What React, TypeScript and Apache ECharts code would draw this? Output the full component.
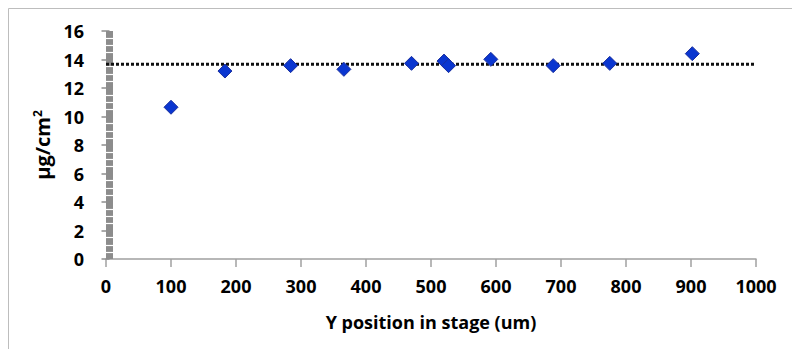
import React, { useEffect, useRef } from "react";
import * as echarts from "echarts";

const xPositions = [100, 183, 284, 366, 470, 520, 527, 592, 688, 775, 902];
const yValues = [10.65, 13.19, 13.57, 13.31, 13.73, 13.89, 13.57, 14.01, 13.57, 13.73, 14.41];
const meanValue = 13.66;
const meanLineX = [0, 1000];
const xTicks = { min: 0, max: 1000, interval: 100 };
const yTicks = { min: 0, max: 16, interval: 2 };

const FONT = "'Open Sans', Lato, sans-serif";

export default function App() {
  const ref = useRef<HTMLDivElement>(null);
  useEffect(() => {
    document.body.style.margin = "0";
    const chart = echarts.init(ref.current!, null, { renderer: "svg" });
    const points = xPositions.map((x, i) => [x, yValues[i]]);
    const mean = meanLineX.map((x) => [x, meanValue]);
    chart.setOption({
      animation: false,
      backgroundColor: "#ffffff",
      graphic: [
        {
          type: "rect",
          shape: { x: 8.5, y: 8.5, width: 900, height: 500 },
          style: { fill: "none", stroke: "#bdbdbd", lineWidth: 1 },
          silent: true,
          z: -10,
        },
      ],
      grid: { left: 106, right: 36, top: 31, bottom: 90, containLabel: false },
      xAxis: {
        type: "value",
        min: xTicks.min,
        max: xTicks.max,
        interval: xTicks.interval,
        name: "Y position in stage (um)",
        nameLocation: "middle",
        nameGap: 54,
        nameTextStyle: { fontFamily: FONT, fontWeight: "bold", fontSize: 18, color: "#000" },
        axisLine: { show: true, lineStyle: { color: "#a0a0a0", width: 1.5 } },
        axisTick: { show: true, length: 8, lineStyle: { color: "#a0a0a0", width: 1.5 } },
        axisLabel: {
          fontFamily: FONT,
          fontWeight: "bold",
          fontSize: 18,
          color: "#000",
          margin: 18,
          formatter: (v: number) => String(v),
        },
        splitLine: { show: false },
      },
      yAxis: [
        {
          type: "value",
          min: yTicks.min,
          max: yTicks.max,
          interval: yTicks.interval,
          z: 5,
          name: "μg/cm{sup|2}",
          nameLocation: "middle",
          nameGap: 53,
          nameRotate: 90,
          nameTextStyle: {
            fontFamily: FONT,
            fontWeight: "bold",
            fontSize: 20,
            color: "#000",
            rich: {
              sup: {
                fontFamily: FONT,
                fontWeight: "bold",
                fontSize: 12,
                color: "#000",
                verticalAlign: "top",
                padding: [0, 0, 10, 0],
              },
            },
          },
          axisLine: { show: false },
          axisTick: { show: false, inside: true },
          minorTick: { show: true, splitNumber: 4, length: 7, lineStyle: { color: "#ffffff", width: 1.2 } },
          axisLabel: { fontFamily: FONT, fontWeight: "bold", fontSize: 18, color: "#000", margin: 22 },
          splitLine: { show: false },
        },
        {
          type: "value",
          min: yTicks.min,
          max: yTicks.max,
          interval: yTicks.interval,
          position: "left",
          offset: -3.5,
          z: 1,
          axisLine: { show: true, lineStyle: { color: "#8c8c8c", width: 7, cap: "butt" } },
          axisTick: { show: true, length: 8, lineStyle: { color: "#8c8c8c", width: 1.5 } },
          axisLabel: { show: false },
          splitLine: { show: false },
        },
      ],
      series: [
        {
          type: "line",
          data: mean,
          yAxisIndex: 0,
          symbol: "none",
          silent: true,
          z: 3,
          lineStyle: { color: "#111111", width: 3, type: [3, 2] },
        },
        {
          type: "scatter",
          data: points,
          yAxisIndex: 0,
          symbol: "diamond",
          symbolSize: 14,
          z: 4,
          itemStyle: { color: "#0a36d0", borderColor: "#1a2f9e", borderWidth: 1, opacity: 1 },
        },
      ],
    });
    return () => chart.dispose();
  }, []);
  return <div ref={ref} style={{ width: 792, height: 349 }} />;
}
